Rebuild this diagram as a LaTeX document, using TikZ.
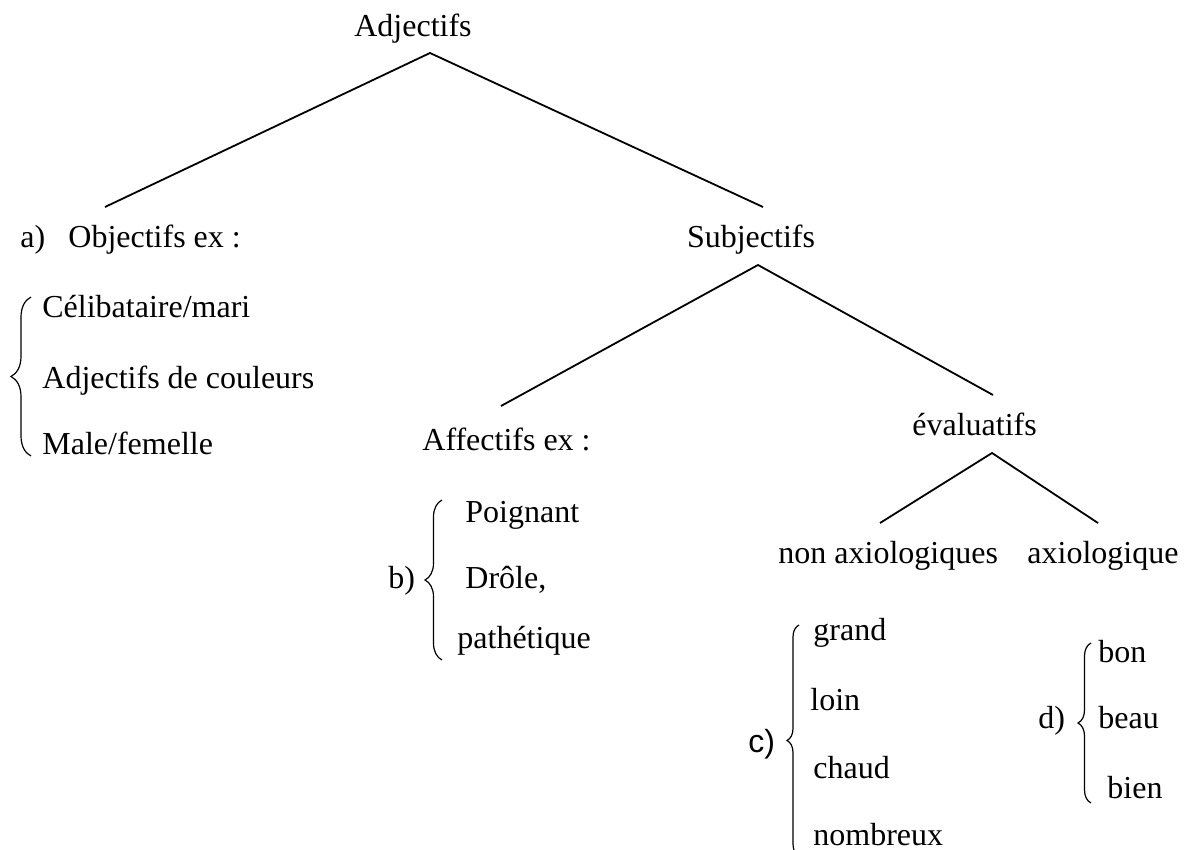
\documentclass[tikz,border=0pt]{standalone}
\usepackage{fontspec}
\setmainfont{Liberation Serif}
\newfontfamily\sanslbl{Liberation Sans}
\usetikzlibrary{decorations.pathreplacing}

\tikzset{
  lbl/.style={inner sep=0pt, anchor=base west, font=\fontsize{16}{19}\selectfont},
  branch/.style={line width=0.9pt},
  curly/.style={decorate, decoration={brace, amplitude=#1}, line width=0.6pt},
}

\begin{document}
\begin{tikzpicture}[x=0.5pt,y=-0.5pt]
\useasboundingbox (0,0) rectangle (1189,850);

% Text Nodes
\node [lbl, anchor=base] (adj) at (413,37) {Adjectifs};
\node [lbl] (alab) at (20,248) {a)};
\node [lbl] (obj) at (68,248) {Objectifs ex :};
\node [lbl] (celib) at (42,318) {Célibataire/mari};
\node [lbl] (couleur) at (42,388) {Adjectifs de couleurs};
\node [lbl] (male) at (42,454) {Male/femelle};
\node [lbl, anchor=base] (subj) at (751,248) {Subjectifs};
\node [lbl] (affect) at (422,450) {Affectifs ex :};
\node [lbl] (evalu) at (912,435) {évaluatifs};
\node [lbl] (nonaxio) at (778,563) {non axiologiques};
\node [lbl] (axio) at (1027,563) {axiologique};
% b)
\node [lbl] (blab) at (388,588) {b)};
\node [lbl] (poign) at (465,522) {Poignant};
\node [lbl] (drole) at (465,588) {Drôle,};
\node [lbl] (pathet) at (457,648) {pathétique};
% c)
\node [lbl, font=\fontsize{16}{19}\sanslbl] (clab) at (748,752) {c)};
\node [lbl] (grand) at (813,640) {grand};
\node [lbl] (loin) at (810,710) {loin};
\node [lbl] (chaud) at (813,778) {chaud};
\node [lbl] (nombreux) at (813,845) {nombreux};
% d)
\node [lbl] (dlab) at (1038,728) {d)};
\node [lbl] (bon) at (1098,662) {bon};
\node [lbl] (beau) at (1098,728) {beau};
\node [lbl] (bien) at (1107,798) {bien};

% Branch ends
\coordinate (adjtop) at (430,53);
\coordinate (objend) at (105,207);
\coordinate (subjend) at (763,207);
\coordinate (subjtop) at (758,265);
\coordinate (affend) at (501,406);
\coordinate (evalend) at (993,395);
\coordinate (evaltop) at (992,453);
\coordinate (nonend) at (880,523);
\coordinate (axioend) at (1098,523);

% Straight Lines
\draw [branch] (objend) -- (adjtop) -- (subjend);
\draw [branch] (affend) -- (subjtop) -- (evalend);
\draw [branch] (nonend) -- (evaltop) -- (axioend);

% Braces
\coordinate (abot) at (31,456);
\coordinate (atop) at (31,297);
\draw [curly=10pt] (abot) -- (atop);
\coordinate (bbot) at (442,660);
\coordinate (btop) at (442,500);
\draw [curly=8.5pt] (bbot) -- (btop);
\coordinate (cbot) at (799,856);
\coordinate (ctop) at (799,625);
\draw [curly=6pt] (cbot) -- (ctop);
\coordinate (dbot) at (1091,803);
\coordinate (dtop) at (1091,643);
\draw [curly=6.5pt] (dbot) -- (dtop);

\end{tikzpicture}
\end{document}
